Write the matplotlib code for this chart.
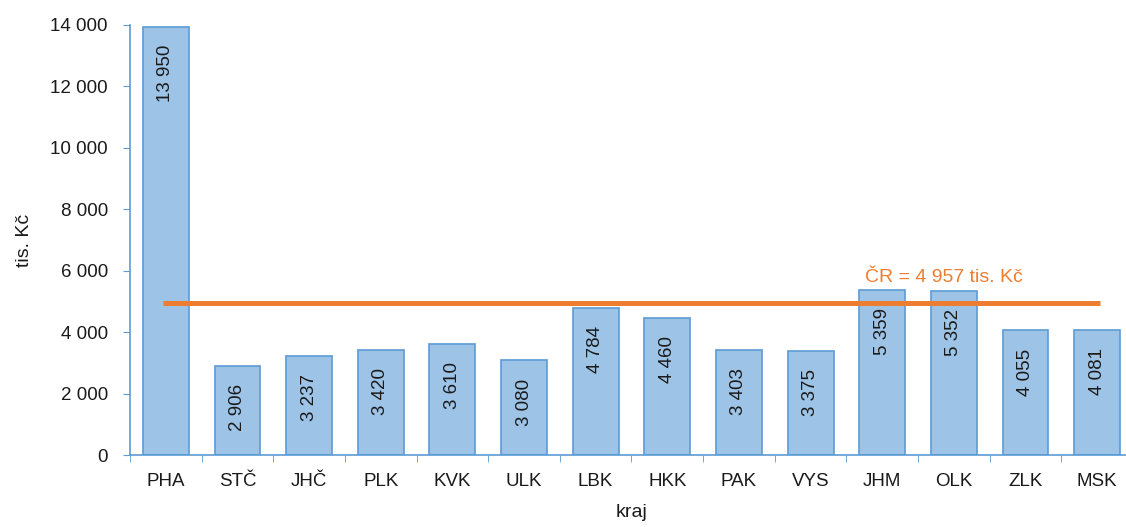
import matplotlib.pyplot as plt
import numpy as np

plt.rcParams['font.family'] = ['Liberation Sans', 'DejaVu Sans']

# data
kraje = ['PHA', 'STČ', 'JHČ', 'PLK', 'KVK', 'ULK', 'LBK', 'HKK', 'PAK', 'VYS',
         'JHM', 'OLK', 'ZLK', 'MSK']
hodnoty = [13950, 2906, 3237, 3420, 3610, 3080, 4784, 4460, 3403, 3375,
           5359, 5352, 4055, 4081]
prumer_cr = 4957

bar_color = '#9DC3E6'
edge_color = '#5B9BD5'
line_color = '#ED7D31'
text_color = '#1a1a1a'


def fmt(v):
    # thousands separated by a space, like the original
    return f"{v:,.0f}".replace(',', ' ')


W, H = 1126, 527
fig = plt.figure(figsize=(W / 100, H / 100), dpi=100)
# the plot area runs off the right edge in the original
ax = fig.add_axes([130 / W, 72 / H, 1003 / W, 430 / H])

x = np.arange(len(kraje))
ax.bar(x, hodnoty, width=0.64, color=bar_color, edgecolor=edge_color, linewidth=1.2, zorder=2)

for xi, v in zip(x, hodnoty):
    ax.annotate(fmt(v), (xi, v), xytext=(0, -13), textcoords='offset points',
                rotation=90, ha='center', va='top', fontsize=13.5, color=text_color, zorder=4)

ax.plot([x[0] - 0.04, x[-1] + 0.04], [prumer_cr, prumer_cr], color=line_color, lw=3.6,
        solid_capstyle='butt', zorder=3)
ax.text(9.76, 5630, f"ČR = {fmt(prumer_cr)} tis. Kč", color=line_color,
        fontsize=14, ha='left', va='baseline')

ax.set_xlim(-0.5, len(kraje) - 0.5)
ax.set_ylim(0, 14000)
ax.set_yticks(np.arange(0, 14001, 2000))
ax.set_yticklabels([fmt(t) for t in np.arange(0, 14001, 2000)], fontsize=13.5, color=text_color)
ax.set_xticks(x)
ax.set_xticklabels(kraje, fontsize=13.5, color=text_color)
ax.set_xticks(np.arange(-0.5, len(kraje), 1), minor=True)
ax.tick_params(axis='x', which='major', length=0, pad=13)
ax.tick_params(axis='x', which='minor', length=5, color=edge_color, direction='out')
ax.tick_params(axis='y', length=5, color=edge_color, direction='out', pad=11)

for s in ['top', 'right']:
    ax.spines[s].set_visible(False)
for s in ['left', 'bottom']:
    ax.spines[s].set_color(edge_color)
    ax.spines[s].set_linewidth(1.2)

ax.set_ylabel('tis. Kč', fontsize=14, color=text_color, labelpad=12)
ax.set_xlabel('kraj', fontsize=14, color=text_color, labelpad=10)

fig.savefig('out.png', dpi=100)
